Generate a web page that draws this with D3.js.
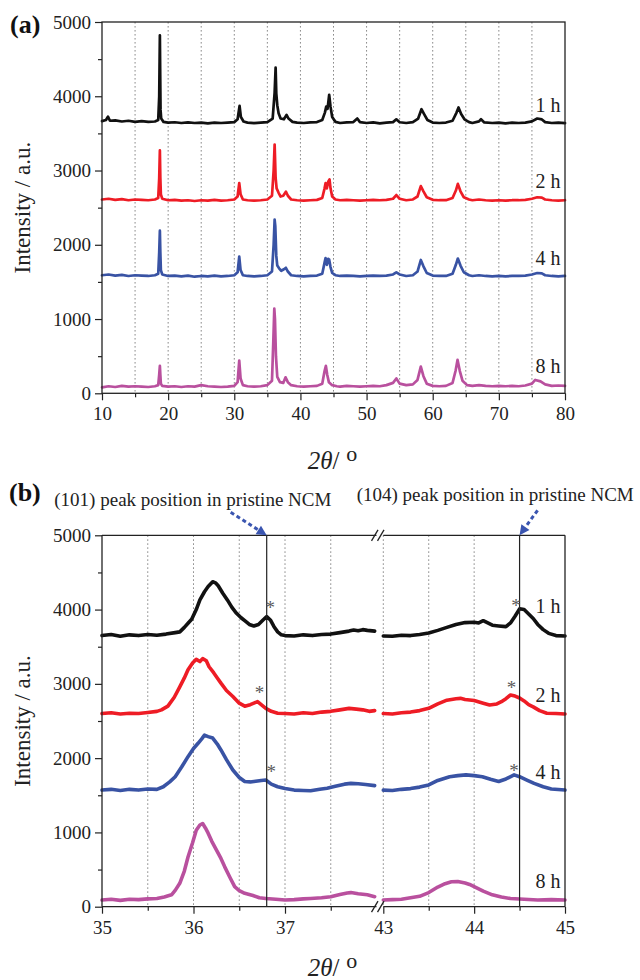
<!DOCTYPE html>
<html><head><meta charset="utf-8">
<script src="https://cdn.jsdelivr.net/npm/d3@7"></script>
<style>
body{margin:0;background:#fff}
svg{display:block}
text{font-family:"Liberation Serif","Times New Roman",serif;fill:#222}
</style>
</head><body><svg id="c" width="640" height="980"></svg>
<script>
// ---------------- DATA ----------------
const seriesNames = ["1 h", "2 h", "4 h", "8 h"];
const seriesColors = ["#111111", "#ee1c25", "#3953a4", "#b9509e"];

// panel (a): full patterns, [2theta, intensity]
const a1h = [[10,3665],[10.6,3680],[10.9,3725],[11.2,3670],[12,3675],[13,3660],[14,3670],[15,3655],[16,3665],[17,3655],[18,3660],[18.5,3680],[18.65,4000],[18.75,4820],[18.8,4300],[18.85,3820],[18.95,3700],[19.3,3655],[20,3645],[21,3650],[22,3640],[23,3648],[24,3640],[25,3646],[26,3636],[27,3646],[28,3640],[29,3646],[30,3652],[30.5,3690],[30.8,3870],[31.0,3720],[31.4,3660],[32,3645],[33,3638],[34,3646],[35,3652],[35.8,3700],[36.1,4050],[36.25,4385],[36.35,4040],[36.5,3880],[36.7,3770],[37.0,3700],[37.5,3690],[37.9,3750],[38.2,3700],[38.8,3655],[39.5,3645],[40.5,3640],[41.5,3648],[42.5,3652],[43.3,3680],[43.7,3780],[43.9,3860],[44.1,3830],[44.35,4020],[44.55,3860],[44.8,3720],[45.3,3655],[46,3640],[47,3648],[48,3652],[48.6,3700],[49,3652],[50,3640],[51,3648],[52,3636],[53,3646],[54,3652],[54.5,3690],[55,3650],[56,3640],[57,3652],[57.8,3700],[58.3,3825],[58.7,3760],[59.2,3680],[60,3646],[61,3640],[62,3646],[63,3670],[63.6,3780],[63.9,3850],[64.3,3760],[64.8,3690],[65.5,3652],[66,3640],[67,3662],[67.3,3690],[67.8,3648],[69,3640],[70,3646],[71,3636],[72,3646],[73,3640],[74,3646],[75,3662],[75.8,3700],[76.5,3688],[77,3652],[78,3640],[79,3646],[80,3638]];
const a2h = [[10,2610],[11,2620],[12,2605],[13,2615],[14,2600],[15,2610],[16,2605],[17,2600],[18,2610],[18.5,2630],[18.65,2900],[18.75,3270],[18.82,2900],[18.9,2680],[19.1,2620],[20,2600],[21,2605],[22,2595],[23,2600],[24,2590],[25,2600],[26,2595],[27,2605],[28,2595],[29,2600],[30,2610],[30.5,2650],[30.75,2830],[30.95,2680],[31.3,2610],[32,2600],[33,2595],[34,2600],[35,2610],[35.7,2660],[35.95,3000],[36.1,3350],[36.25,2900],[36.4,2760],[36.7,2700],[37.0,2650],[37.4,2660],[37.8,2715],[38.1,2660],[38.6,2610],[39.5,2600],[40.5,2595],[41.5,2600],[42.5,2605],[43.3,2630],[43.65,2760],[43.8,2830],[44.0,2760],[44.2,2850],[44.4,2880],[44.55,2760],[44.8,2650],[45.3,2610],[46,2600],[47,2605],[48,2600],[49,2595],[50,2600],[51,2605],[52,2600],[53,2605],[54,2620],[54.5,2670],[55,2620],[56,2600],[57,2610],[57.7,2650],[58.2,2790],[58.6,2720],[59.1,2640],[60,2605],[61,2600],[62,2600],[63,2630],[63.5,2730],[63.8,2820],[64.2,2720],[64.7,2640],[65.5,2610],[66,2600],[67,2610],[68,2600],[69,2595],[70,2600],[71,2595],[72,2600],[73,2600],[74,2605],[75,2620],[75.8,2640],[76.5,2635],[77,2610],[78,2600],[79,2595],[80,2600]];
const a4h = [[10,1590],[11,1600],[12,1585],[13,1595],[14,1580],[15,1590],[16,1585],[17,1580],[18,1590],[18.5,1610],[18.65,1900],[18.75,2190],[18.82,1900],[18.9,1660],[19.1,1600],[20,1580],[21,1585],[22,1575],[23,1585],[24,1570],[25,1580],[26,1575],[27,1585],[28,1575],[29,1580],[30,1590],[30.5,1630],[30.75,1840],[30.95,1660],[31.3,1590],[32,1580],[33,1575],[34,1580],[35,1590],[35.7,1640],[35.95,2000],[36.1,2340],[36.2,2250],[36.35,1850],[36.5,1720],[36.8,1680],[37.1,1650],[37.5,1670],[37.8,1690],[38.1,1640],[38.6,1590],[39.5,1580],[40.5,1575],[41.5,1580],[42.5,1585],[43.3,1610],[43.65,1760],[43.8,1820],[44.0,1730],[44.2,1810],[44.35,1800],[44.55,1700],[44.8,1620],[45.3,1590],[46,1580],[47,1585],[48,1580],[49,1575],[50,1580],[51,1585],[52,1580],[53,1585],[54,1600],[54.5,1630],[55,1600],[56,1580],[57,1590],[57.7,1640],[58.2,1795],[58.6,1710],[59.1,1620],[60,1585],[61,1580],[62,1580],[63,1610],[63.5,1730],[63.8,1815],[64.2,1720],[64.7,1630],[65.5,1590],[66,1580],[67,1590],[68,1580],[69,1575],[70,1580],[71,1575],[72,1580],[73,1580],[74,1585],[75,1600],[75.8,1620],[76.5,1615],[77,1590],[78,1580],[79,1575],[80,1580]];
const a8h = [[10,80],[11,95],[12,85],[13,100],[14,90],[15,95],[16,90],[17,85],[18,95],[18.5,110],[18.65,250],[18.75,370],[18.82,250],[18.9,130],[19.1,100],[20,90],[21,95],[22,85],[23,95],[24,90],[25,110],[26,95],[27,90],[28,85],[29,90],[30,100],[30.5,150],[30.75,440],[30.95,200],[31.3,110],[32,95],[33,90],[34,95],[35,110],[35.7,170],[35.9,700],[36.05,1140],[36.15,1000],[36.3,500],[36.5,220],[36.9,150],[37.4,140],[37.75,215],[38.1,150],[38.6,110],[39.5,95],[40.5,90],[41.5,95],[42.5,100],[43.3,130],[43.65,300],[43.85,370],[44.05,250],[44.3,150],[44.8,110],[45.5,95],[46,90],[47,100],[48,95],[49,90],[50,95],[51,100],[52,95],[53,110],[54,140],[54.5,200],[55,130],[56,110],[57,120],[57.7,180],[58.2,360],[58.6,230],[59.1,130],[60,100],[61,95],[62,100],[63,140],[63.45,300],[63.75,450],[64.1,300],[64.5,170],[65.2,110],[66,100],[67,110],[68,100],[69,95],[70,100],[71,95],[72,100],[73,95],[74,105],[75,130],[75.5,180],[76.3,160],[77,120],[78,100],[79,105],[80,100]];

// panel (b): zoomed windows, left [35,38] and right [43,45]
const b1hL = [[35.0,3650],[35.1,3665],[35.2,3640],[35.3,3660],[35.4,3650],[35.5,3665],[35.6,3655],[35.7,3670],[35.8,3690],[35.85,3700],[35.9,3760],[35.95,3830],[35.98,3870],[36.03,4000],[36.07,4130],[36.12,4240],[36.16,4310],[36.21,4375],[36.24,4360],[36.27,4320],[36.32,4220],[36.37,4130],[36.42,4030],[36.47,3950],[36.52,3890],[36.56,3850],[36.61,3800],[36.66,3780],[36.71,3800],[36.76,3860],[36.8,3905],[36.84,3860],[36.88,3770],[36.92,3700],[36.96,3660],[37.0,3650],[37.1,3645],[37.2,3660],[37.3,3650],[37.4,3665],[37.5,3670],[37.6,3690],[37.7,3710],[37.75,3725],[37.8,3715],[37.85,3730],[37.9,3720],[37.98,3710]];
const b1hR = [[43.0,3645],[43.1,3640],[43.2,3655],[43.3,3650],[43.4,3665],[43.5,3685],[43.6,3720],[43.7,3760],[43.8,3800],[43.9,3825],[44.0,3830],[44.05,3820],[44.1,3850],[44.15,3820],[44.2,3790],[44.27,3780],[44.35,3770],[44.4,3820],[44.45,3910],[44.5,4010],[44.55,4000],[44.6,3940],[44.65,3880],[44.7,3800],[44.76,3730],[44.82,3680],[44.9,3650],[45.0,3645]];
const b2hL = [[35.0,2600],[35.1,2610],[35.2,2595],[35.3,2605],[35.4,2600],[35.5,2615],[35.6,2630],[35.65,2650],[35.72,2700],[35.79,2820],[35.85,2960],[35.9,3080],[35.94,3190],[35.99,3280],[36.03,3330],[36.07,3300],[36.1,3340],[36.14,3310],[36.17,3230],[36.22,3150],[36.26,3080],[36.3,3010],[36.36,2910],[36.43,2830],[36.5,2740],[36.56,2700],[36.62,2720],[36.66,2740],[36.7,2760],[36.74,2720],[36.79,2670],[36.85,2630],[36.92,2605],[37.0,2600],[37.1,2595],[37.2,2610],[37.3,2600],[37.4,2620],[37.5,2630],[37.6,2650],[37.7,2670],[37.78,2660],[37.85,2650],[37.92,2630],[37.98,2640]];
const b2hR = [[43.0,2600],[43.1,2595],[43.2,2610],[43.3,2620],[43.4,2640],[43.5,2670],[43.6,2730],[43.7,2780],[43.8,2800],[43.85,2805],[43.9,2790],[44.0,2775],[44.1,2740],[44.17,2715],[44.25,2730],[44.3,2760],[44.35,2800],[44.4,2850],[44.45,2835],[44.5,2810],[44.55,2770],[44.6,2720],[44.65,2690],[44.72,2640],[44.8,2605],[44.9,2600],[45.0,2595]];
const b4hL = [[35.0,1570],[35.1,1580],[35.2,1565],[35.3,1580],[35.4,1570],[35.5,1585],[35.6,1580],[35.67,1615],[35.74,1680],[35.8,1750],[35.87,1880],[35.94,2020],[36.0,2130],[36.05,2200],[36.09,2260],[36.12,2310],[36.16,2290],[36.21,2270],[36.26,2190],[36.3,2110],[36.36,1980],[36.43,1840],[36.5,1740],[36.56,1685],[36.62,1680],[36.68,1690],[36.74,1700],[36.79,1705],[36.85,1650],[36.92,1615],[37.0,1590],[37.1,1570],[37.2,1565],[37.28,1560],[37.38,1580],[37.46,1595],[37.55,1620],[37.65,1650],[37.72,1660],[37.8,1655],[37.88,1645],[37.98,1630]];
const b4hR = [[43.0,1570],[43.1,1565],[43.2,1580],[43.3,1590],[43.4,1610],[43.5,1640],[43.6,1700],[43.73,1750],[43.82,1765],[43.91,1775],[44.0,1765],[44.09,1750],[44.18,1715],[44.27,1685],[44.35,1720],[44.44,1775],[44.5,1750],[44.58,1705],[44.66,1660],[44.76,1615],[44.85,1585],[45.0,1570]];
const b8hL = [[35.0,90],[35.1,100],[35.2,85],[35.3,100],[35.4,95],[35.5,105],[35.6,110],[35.68,130],[35.76,160],[35.8,220],[35.85,315],[35.9,480],[35.94,670],[35.99,860],[36.03,1030],[36.07,1100],[36.1,1120],[36.13,1060],[36.16,990],[36.2,880],[36.25,765],[36.3,650],[36.34,540],[36.4,390],[36.45,270],[36.5,215],[36.56,180],[36.65,150],[36.72,120],[36.79,110],[36.9,100],[37.0,90],[37.1,95],[37.2,105],[37.28,110],[37.4,120],[37.5,135],[37.6,165],[37.68,185],[37.72,190],[37.8,175],[37.9,160],[37.98,135]];
const b8hR = [[43.0,90],[43.1,95],[43.2,100],[43.3,120],[43.4,140],[43.5,190],[43.6,265],[43.68,310],[43.75,335],[43.82,340],[43.9,320],[43.95,300],[44.0,270],[44.1,210],[44.2,160],[44.3,130],[44.4,110],[44.55,100],[44.7,90],[44.85,95],[45.0,90]];

// series label heights (intensity units)
const aLabelY = [3792, 2761, 1728, 269];
const bLabelY = [3954, 2760, 1719, 252];

// asterisks [2theta, intensity]
const starsLeft = [[36.84,4062],[36.72,2917],[36.85,1850]];
const starsRight = [[44.46,4093],[44.41,2985],[44.44,1863]];

// reference peak positions (pristine NCM)
const refPeaks = [36.8, 44.5];
const refLabels = ["(101) peak position in pristine NCM", "(104) peak position in pristine NCM"];

// ticks
const yMajor = [0,1000,2000,3000,4000,5000];
const yMinor = [500,1500,2500,3500,4500];
const aXMajor = [10,20,30,40,50,60,70,80];
const aXMinor = [15,25,35,45,55,65,75];
const aGrid = [15,20,25,30,35,40,45,50,55,60,65,70,75];
const bXMajorL = [35,36,37];
const bXMinorL = [35.5,36.5,37.5];
const bXMajorR = [43,44,45];
const bXMinorR = [43.5,44.5];
const bGridL = [35.5,36,36.5,37,37.5];
const bGridR = [43,43.5,44];

// ---------------- DRAWING ----------------
const svg = d3.select('#c');
const AXC = '#222';
const FF = '"Liberation Serif","Times New Roman",serif';
const TICKFS = 19;

function styleAxis(g){
  g.select('.domain').remove();
  g.attr('font-family', FF).attr('font-size', TICKFS).attr('color', AXC);
  g.selectAll('line').attr('stroke-width', 1.2);
  g.selectAll('text').style('fill', '#222');
}

function yAxes(y, x0){
  const g1 = svg.append('g').attr('transform', `translate(${x0},0)`)
    .call(d3.axisLeft(y).tickValues(yMajor).tickSize(7).tickPadding(4).tickFormat(d3.format('d')));
  styleAxis(g1);
  const g2 = svg.append('g').attr('transform', `translate(${x0},0)`)
    .call(d3.axisLeft(y).tickValues(yMinor).tickSize(4).tickFormat(''));
  styleAxis(g2);
}
function xAxes(x, y0, major, minor){
  const g1 = svg.append('g').attr('transform', `translate(0,${y0})`)
    .call(d3.axisBottom(x).tickValues(major).tickSize(7).tickPadding(6.5).tickFormat(d3.format('d')));
  styleAxis(g1);
  const g2 = svg.append('g').attr('transform', `translate(0,${y0})`)
    .call(d3.axisBottom(x).tickValues(minor).tickSize(4).tickFormat(''));
  styleAxis(g2);
}
function grid(x, vals, y0, y1){
  svg.append('g').selectAll('line').data(vals).join('line')
    .attr('x1', d => x(d)).attr('x2', d => x(d))
    .attr('y1', y0).attr('y2', y1)
    .attr('stroke', '#8a8a8a').attr('stroke-width', 1).attr('stroke-dasharray', '1.6,2.4');
}
function trace(data, x, y, color, w){
  svg.append('path').datum(data)
    .attr('d', d3.line().x(d => x(d[0])).y(d => y(d[1])))
    .attr('fill', 'none').attr('stroke', color).attr('stroke-width', w)
    .attr('stroke-linejoin', 'round').attr('stroke-linecap', 'round');
}
function yTitle(cy){
  svg.append('text').attr('transform', `translate(30,${cy}) rotate(-90)`)
    .attr('text-anchor', 'middle').attr('font-size', 23).text('Intensity / a.u.');
}
function xTitle(cx, base){
  const t = svg.append('text').attr('x', cx).attr('y', base).attr('text-anchor', 'middle').attr('font-size', 25);
  t.append('tspan').attr('font-style', 'italic').text('2θ');
  t.append('tspan').text('/');
  t.append('tspan').attr('dx', 7).attr('dy', -8).attr('font-size', 22).text('o');
}

// ---- panel (a)
const aL = 102, aR = 565, aT = 22, aB = 393.3;
const ax = d3.scaleLinear().domain([10, 80]).range([aL, aR]);
const ay = d3.scaleLinear().domain([0, 5000]).range([aB, aT]);

grid(ax, aGrid, aT, aB);
const aSeries = [a1h, a2h, a4h, a8h];
aSeries.forEach((s, i) => trace(s, ax, ay, seriesColors[i], 2.7));
svg.append('rect').attr('x', aL).attr('y', aT).attr('width', aR - aL).attr('height', aB - aT)
  .attr('fill', 'none').attr('stroke', AXC).attr('stroke-width', 1.3);
yAxes(ay, aL);
xAxes(ax, aB, aXMajor, aXMinor);
seriesNames.forEach((n, i) => {
  svg.append('text').attr('x', 560.5).attr('y', ay(aLabelY[i])).attr('text-anchor', 'end')
    .attr('font-size', 20).text(n);
});
yTitle((aT + aB) / 2);
xTitle(332.5, 469);
svg.append('text').attr('x', 10).attr('y', 33).attr('font-size', 26).attr('font-weight', 'bold').style('fill', '#111').text('(a)');

// ---- panel (b)
const bL = 102, bR = 565, bT = 535.3, bB = 906.7;
const bxL = d3.scaleLinear().domain([35, 38]).range([bL, 376.5]);
const bxR = d3.scaleLinear().domain([43, 45]).range([383.3, bR]);
const by = d3.scaleLinear().domain([0, 5000]).range([bB, bT]);

grid(bxL, bGridL, bT, bB);
grid(bxR, bGridR, bT, bB);
const bLeft = [b1hL, b2hL, b4hL, b8hL];
const bRight = [b1hR, b2hR, b4hR, b8hR];
bLeft.forEach((s, i) => trace(s, bxL, by, seriesColors[i], 3.6));
bRight.forEach((s, i) => trace(s, bxR, by, seriesColors[i], 3.6));

// reference vertical lines
svg.append('line').attr('x1', bxL(refPeaks[0])).attr('x2', bxL(refPeaks[0])).attr('y1', bT).attr('y2', bB)
  .attr('stroke', '#222').attr('stroke-width', 1.2);
svg.append('line').attr('x1', bxR(refPeaks[1])).attr('x2', bxR(refPeaks[1])).attr('y1', bT).attr('y2', bB)
  .attr('stroke', '#222').attr('stroke-width', 1.2);

// frame with break
const frame = svg.append('g').attr('stroke', AXC).attr('stroke-width', 1.3).attr('fill', 'none');
frame.append('line').attr('x1', bL).attr('x2', bL).attr('y1', bT).attr('y2', bB);
frame.append('line').attr('x1', bR).attr('x2', bR).attr('y1', bT).attr('y2', bB);
[bT, bB].forEach(yy => {
  frame.append('line').attr('x1', bL).attr('x2', bxL(38)).attr('y1', yy).attr('y2', yy);
  frame.append('line').attr('x1', bxR(43)).attr('x2', bR).attr('y1', yy).attr('y2', yy);
  frame.append('line').attr('x1', 371.5).attr('y1', yy + 5.5).attr('x2', 378).attr('y2', yy - 5.5);
  frame.append('line').attr('x1', 377.5).attr('y1', yy + 5.5).attr('x2', 384).attr('y2', yy - 5.5);
});
yAxes(by, bL);
xAxes(bxL, bB, bXMajorL, bXMinorL);
xAxes(bxR, bB, bXMajorR, bXMinorR);

// asterisks
starsLeft.forEach(s => svg.append('text').attr('x', bxL(s[0])).attr('y', by(s[1]) + 9)
  .attr('text-anchor', 'middle').attr('font-size', 19).style('fill', '#5a5a5a').text('*'));
starsRight.forEach(s => svg.append('text').attr('x', bxR(s[0])).attr('y', by(s[1]) + 9)
  .attr('text-anchor', 'middle').attr('font-size', 19).style('fill', '#5a5a5a').text('*'));

seriesNames.forEach((n, i) => {
  svg.append('text').attr('x', 560.5).attr('y', by(bLabelY[i])).attr('text-anchor', 'end')
    .attr('font-size', 20).text(n);
});
yTitle((bT + bB) / 2);
xTitle(332.5, 975.5);
svg.append('text').attr('x', 9).attr('y', 501).attr('font-size', 26).attr('font-weight', 'bold').style('fill', '#111').text('(b)');

// annotations
svg.append('text').attr('x', 54.3).attr('y', 506).attr('font-size', 19).text(refLabels[0]);
svg.append('text').attr('x', 356.7).attr('y', 501).attr('font-size', 19).text(refLabels[1]);

function arrow(x0, y0, x1, y1){
  const c = '#3a55b0';
  const dx = x1 - x0, dy = y1 - y0, L = Math.hypot(dx, dy);
  const ux = dx / L, uy = dy / L, hl = 10, hw = 5;
  const bx = x1 - ux * hl, byy = y1 - uy * hl;
  svg.append('line').attr('x1', x0).attr('y1', y0).attr('x2', bx).attr('y2', byy)
    .attr('stroke', c).attr('stroke-width', 3).attr('stroke-dasharray', '4,3');
  svg.append('path').attr('d', `M${x1},${y1}L${bx - uy * hw},${byy + ux * hw}L${bx + uy * hw},${byy - ux * hw}Z`)
    .attr('fill', c);
}
arrow(bxL(refPeaks[0]) - 36, bT - 23, bxL(refPeaks[0]), bT);
arrow(bxR(refPeaks[1]) + 18, bT - 25, bxR(refPeaks[1]), bT);
</script>
</body></html>
